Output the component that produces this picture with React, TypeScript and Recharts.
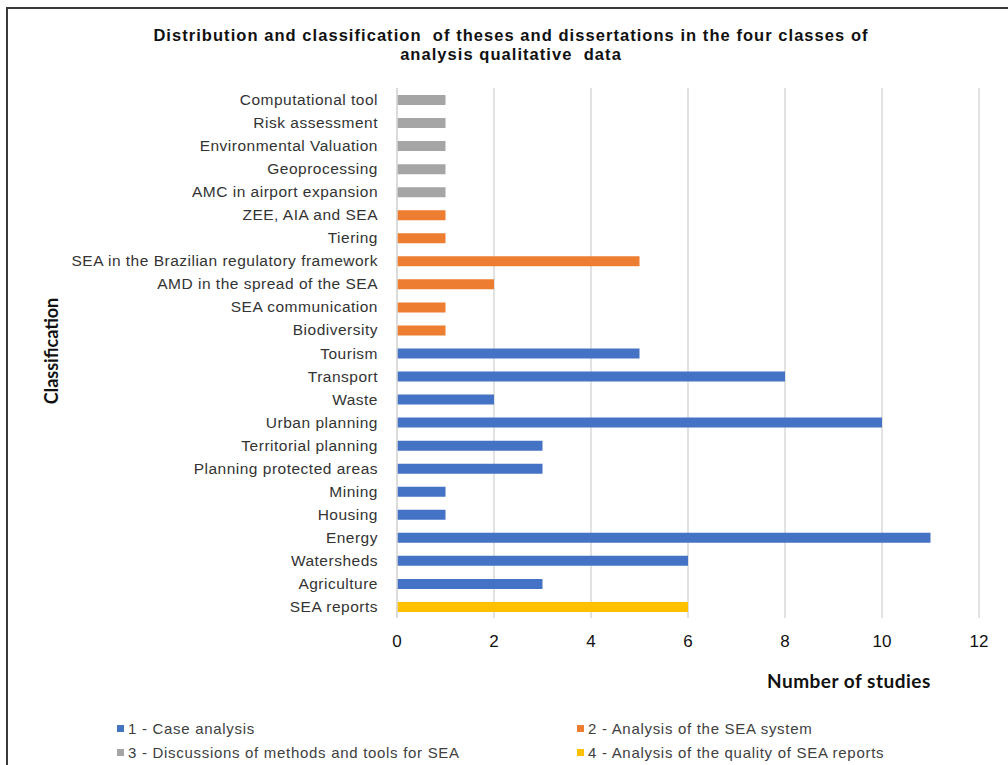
import React from "react";
import { BarChart, Bar, XAxis, YAxis, CartesianGrid, Cell } from "recharts";

// categories listed top to bottom
const categories = [
  "Computational tool",
  "Risk assessment",
  "Environmental Valuation",
  "Geoprocessing",
  "AMC in airport expansion",
  "ZEE, AIA and SEA",
  "Tiering",
  "SEA in the Brazilian regulatory framework",
  "AMD in the spread of the SEA",
  "SEA communication",
  "Biodiversity",
  "Tourism",
  "Transport",
  "Waste",
  "Urban planning",
  "Territorial planning",
  "Planning protected areas",
  "Mining",
  "Housing",
  "Energy",
  "Watersheds",
  "Agriculture",
  "SEA reports",
];

const studies = [1, 1, 1, 1, 1, 1, 1, 5, 2, 1, 1, 5, 8, 2, 10, 3, 3, 1, 1, 11, 6, 3, 6];

// class index (0..3) for each category
const classOf = [2, 2, 2, 2, 2, 1, 1, 1, 1, 1, 1, 0, 0, 0, 0, 0, 0, 0, 0, 0, 0, 0, 3];

const classNames = [
  "1 - Case analysis",
  "2 - Analysis of the SEA system",
  "3 - Discussions of methods and tools for SEA",
  "4 - Analysis of the quality of SEA reports",
];

const xTicks = [0, 2, 4, 6, 8, 10, 12];

const classColors = ["#4472C4", "#ED7D31", "#A5A5A5", "#FFC000"];

const rows = categories.map((name, i) => ({ name, value: studies[i], cls: classOf[i] }));

const legendPos = [
  { left: 117, top: 720 },
  { left: 577, top: 720 },
  { left: 117, top: 744 },
  { left: 577, top: 744 },
];

export default function App() {
  return (
    <div
      style={{
        position: "absolute",
        left: 0,
        top: 0,
        width: 1008,
        height: 765,
        background: "#fff",
        overflow: "hidden",
        fontFamily: "'Liberation Sans', Arial, sans-serif",
      }}
    >
      <div
        style={{
          position: "absolute",
          left: 6,
          top: 7,
          width: 1100,
          height: 900,
          border: "2px solid #3a3a3a",
        }}
      />
      <div
        style={{
          position: "absolute",
          left: 0,
          width: 1022,
          top: 26,
          textAlign: "center",
          fontWeight: 700,
          fontSize: 16.5,
          letterSpacing: 1.05,
          lineHeight: "19px",
          color: "#111",
        }}
      >
        Distribution and classification&nbsp; of theses and dissertations in the four classes of
        <br />
        analysis qualitative&nbsp; data
      </div>

      <div style={{ position: "absolute", left: 0, top: 0 }}>
        <BarChart
          width={1008}
          height={765}
          data={rows}
          layout="vertical"
          margin={{ top: 88, right: 29, bottom: 117, left: 0 }}
          barSize={10}
        >
          <CartesianGrid horizontal={false} stroke="#d9d9d9" strokeWidth={1.5} />
          <XAxis
            type="number"
            domain={[0, 12]}
            ticks={xTicks}
            axisLine={false}
            tickLine={false}
            tickSize={0}
            tickMargin={17}
            height={30}
            tick={{ fill: "#111", fontSize: 17 }}
          />
          <YAxis
            type="category"
            dataKey="name"
            width={397}
            interval={0}
            axisLine={{ stroke: "#d9d9d9", strokeWidth: 1.5 }}
            tickLine={false}
            tickSize={0}
            tickMargin={19}
            tick={{ fill: "#333", fontSize: 15.5, letterSpacing: 0.5 }}
          />
          <Bar dataKey="value" isAnimationActive={false}>
            {rows.map((r, i) => (
              <Cell key={i} fill={classColors[r.cls]} />
            ))}
          </Bar>
        </BarChart>
      </div>

      <div
        style={{
          position: "absolute",
          left: 51,
          top: 351,
          transform: "translate(-50%, -50%) rotate(-90deg)",
          fontFamily: "Lato, sans-serif",
          fontWeight: 700,
          fontSize: 18,
          color: "#111",
          whiteSpace: "nowrap",
        }}
      >
        Classification
      </div>
      <div
        style={{
          position: "absolute",
          left: 767,
          top: 669,
          fontFamily: "Lato, sans-serif",
          fontWeight: 700,
          fontSize: 19,
          letterSpacing: 0.5,
          color: "#111",
          whiteSpace: "nowrap",
        }}
      >
        Number of studies
      </div>

      {classNames.map((label, i) => (
        <div
          key={label}
          style={{
            position: "absolute",
            left: legendPos[i].left,
            top: legendPos[i].top,
            display: "flex",
            alignItems: "center",
            fontSize: 15,
            letterSpacing: 0.7,
            color: "#404040",
            whiteSpace: "nowrap",
          }}
        >
          <span
            style={{
              display: "inline-block",
              width: 7,
              height: 7,
              background: classColors[i],
              marginRight: 4,
            }}
          />
          {label}
        </div>
      ))}
    </div>
  );
}
